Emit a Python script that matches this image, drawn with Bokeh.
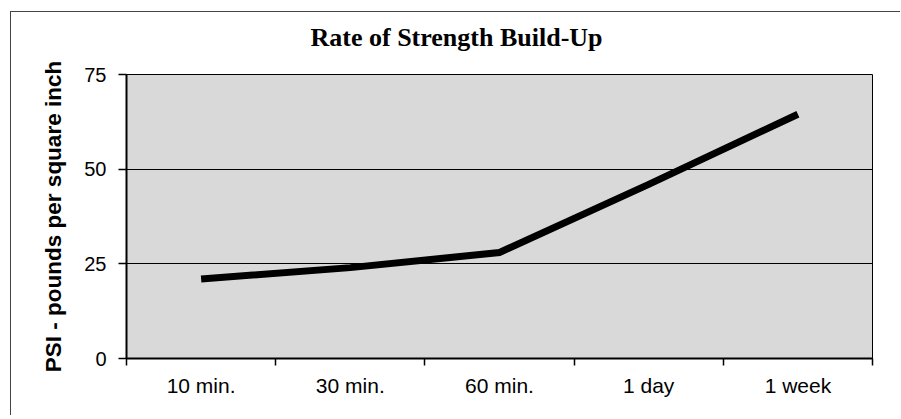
from bokeh.plotting import figure
from bokeh.models import FixedTicker, Range1d
from bokeh.embed import file_html
from bokeh.resources import INLINE

categories = ["10 min.", "30 min.", "60 min.", "1 day", "1 week"]
psi = [21, 24, 28, 46, 64.5]
y_ticks = [0, 25, 50, 75]
title_text = "Rate of Strength Build-Up"
y_label = "PSI - pounds per square inch"

n = len(categories)
xs = [i + 0.5 for i in range(n)]

p = figure(width=900, height=415,
           x_range=Range1d(0, n), y_range=Range1d(y_ticks[0], y_ticks[-1]),
           output_backend="svg", toolbar_location=None,
           min_border_left=126, min_border_right=28,
           min_border_top=74, min_border_bottom=57)

# outer chart border (only its top/left edges fall inside the picture):
# drawn as a CSS background behind a transparent canvas border area
p.styles = {"background": "linear-gradient(#444444, #444444) 10px 11px / 1px 100% no-repeat, "
                          "linear-gradient(#444444, #444444) 10px 11px / 100% 1px no-repeat, "
                          "#ffffff"}

p.background_fill_color = "#d9d9d9"
p.border_fill_color = None
p.outline_line_color = "black"
p.outline_line_width = 1

# title
p.title.text = title_text
p.title.text_font = "Liberation Serif"
p.title.text_font_style = "bold"
p.title.text_font_size = "26px"
p.title.text_color = "black"
p.title.align = "left"
p.title.offset = 184
p.title.vertical_align = "top"
p.title.standoff = 41

# x axis
xax = p.xaxis[0]
xax.ticker = FixedTicker(ticks=xs, minor_ticks=list(range(n + 1)))
xax.major_label_overrides = {x: c for x, c in zip(xs, categories)}
xax.major_tick_out = 0
xax.major_tick_in = 0
xax.minor_tick_out = 7
xax.minor_tick_in = 0
xax.minor_tick_line_color = "black"
xax.minor_tick_line_width = 1.5
xax.axis_line_color = "black"
xax.axis_line_width = 2
xax.major_label_text_font = "Liberation Sans"
xax.major_label_text_font_size = "21px"
xax.major_label_text_color = "black"
xax.major_label_standoff = 8

# y axis
yax = p.yaxis[0]
yax.ticker = FixedTicker(ticks=y_ticks)
yax.minor_tick_line_color = None
yax.major_tick_out = 8
yax.major_tick_in = 0
yax.major_tick_line_color = "black"
yax.major_tick_line_width = 1.5
yax.axis_line_color = "black"
yax.axis_line_width = 2
yax.major_label_text_font = "Liberation Sans"
yax.major_label_text_font_size = "20px"
yax.major_label_text_color = "black"
yax.major_label_standoff = 12
yax.axis_label = y_label
yax.axis_label_text_font = "Liberation Sans"
yax.axis_label_text_font_style = "bold"
yax.axis_label_text_font_size = "22.5px"
yax.axis_label_text_color = "black"
yax.axis_label_standoff = 15

# grid
p.xgrid.grid_line_color = None
p.ygrid.ticker = FixedTicker(ticks=y_ticks)
p.ygrid.grid_line_color = "black"
p.ygrid.grid_line_width = 1
p.ygrid.grid_line_alpha = 1

p.line(xs, psi, line_color="black", line_width=7, line_join="miter")

open("out.html", "w").write(file_html(p, INLINE))
